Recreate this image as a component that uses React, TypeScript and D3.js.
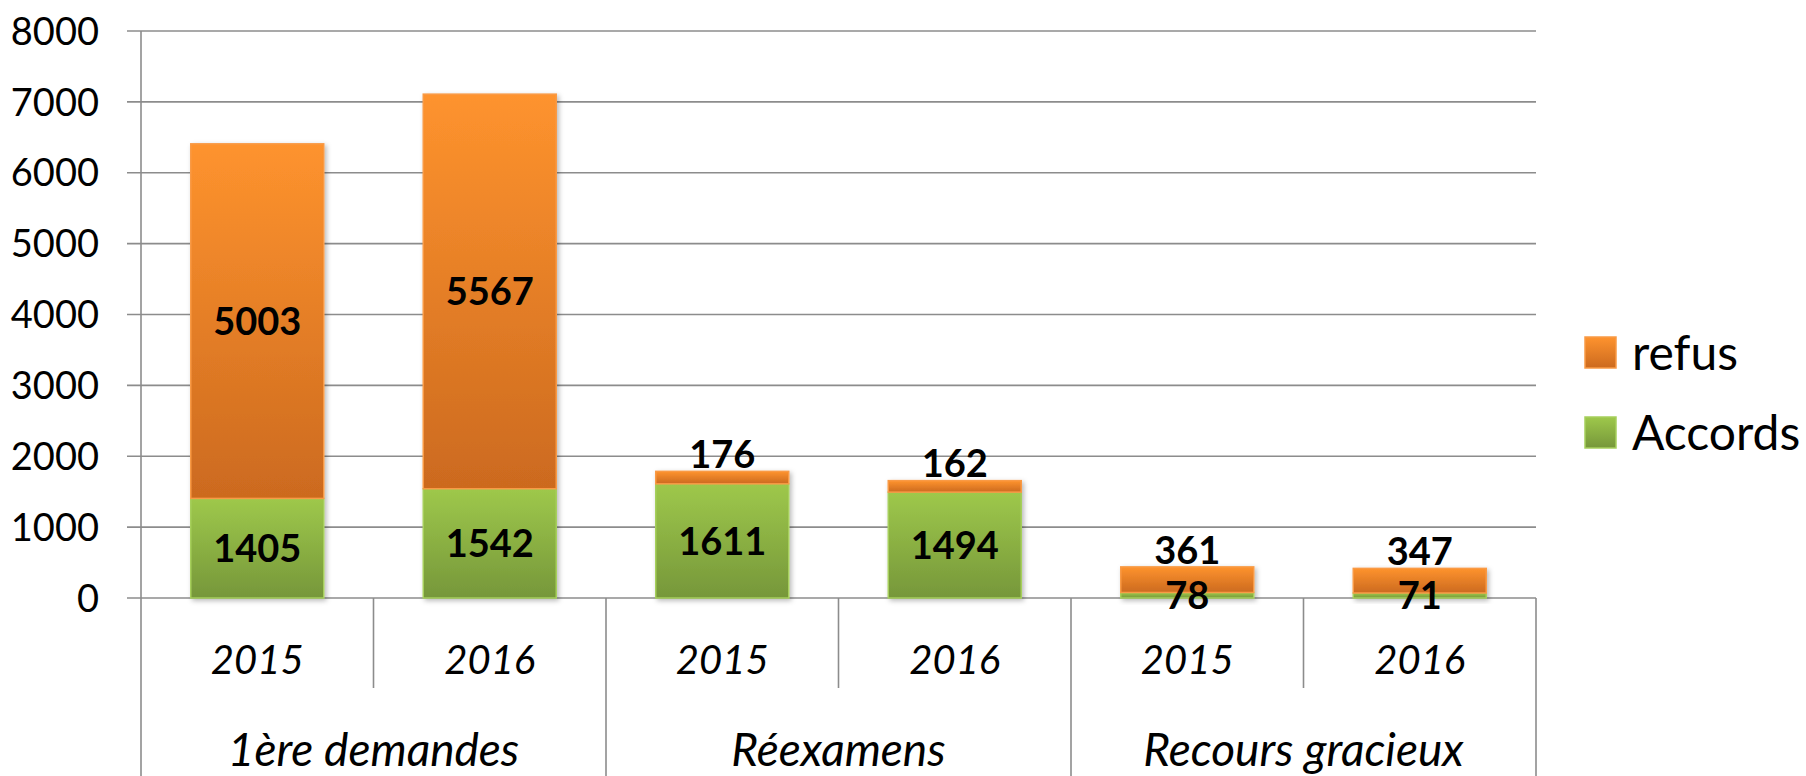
import React from "react";
import * as d3 from "d3";

const groups = ["1ère demandes", "Réexamens", "Recours gracieux"];
const years = ["2015", "2016"];
const accords = [1405, 1542, 1611, 1494, 78, 71];
const refus = [5003, 5567, 176, 162, 361, 347];
const yTicks = [0, 1000, 2000, 3000, 4000, 5000, 6000, 7000, 8000];
const seriesNames = ["refus", "Accords"];

const W = 1806;
const H = 776;
const left = 141;
const right = 1536;
const top = 31;
const bottom = 598;
const FONT = "Lato, 'Open Sans', sans-serif";
const gridColor = "#8c8c8c";

export default function App() {
  const n = accords.length;
  const idx = d3.range(n);
  const x = d3.scaleBand<number>().domain(idx).range([left, right]).padding(0);
  const y = d3.scaleLinear().domain([0, 8000]).range([bottom, top]);
  const barW = x.bandwidth() * 0.572;
  const gx = d3.scaleBand<number>().domain(d3.range(groups.length)).range([left, right]).padding(0);

  return (
    <svg width={W} height={H} style={{ position: "absolute", left: 0, top: 0, background: "#fff" }}>
      <defs>
        <linearGradient id="gOr" x1="0" y1="0" x2="0" y2="1">
          <stop offset="0%" stopColor="#fe932e" />
          <stop offset="100%" stopColor="#cc6a1f" />
        </linearGradient>
        <linearGradient id="gGr" x1="0" y1="0" x2="0" y2="1">
          <stop offset="0%" stopColor="#9ec84b" />
          <stop offset="100%" stopColor="#76973a" />
        </linearGradient>
        <filter id="sh" x="-10%" y="-10%" width="130%" height="130%">
          <feDropShadow dx="2" dy="2" stdDeviation="2.5" floodColor="#000" floodOpacity="0.28" />
        </filter>
      </defs>
      <rect x={0} y={0} width={W} height={H} fill="#fff" />
      {yTicks.map((t) => (
        <line key={"g" + t} x1={127} x2={right} y1={y(t)} y2={y(t)} stroke={gridColor} strokeWidth={1.6} />
      ))}
      {yTicks.map((t) => (
        <text key={"t" + t} x={99} y={y(t)} dy="0.36em" textAnchor="end" fontFamily={FONT} fontSize={38} fill="#000">
          {t}
        </text>
      ))}
      <line x1={left} x2={left} y1={top} y2={H} stroke={gridColor} strokeWidth={1.6} />
      {idx.slice(1).map((i) => {
        const isGroup = i % years.length === 0;
        return (
          <line key={"d" + i} x1={x(i)!} x2={x(i)!} y1={bottom} y2={isGroup ? H : 688} stroke={gridColor} strokeWidth={1.6} />
        );
      })}
      <line x1={right} x2={right} y1={bottom} y2={H} stroke={gridColor} strokeWidth={1.6} />
      {idx.map((i) => {
        const bx = x(i)! + (x.bandwidth() - barW) / 2;
        const a = accords[i];
        const r = refus[i];
        return (
          <g key={"b" + i} filter="url(#sh)">
            <rect x={bx} y={y(a)} width={barW} height={y(0) - y(a)} fill="url(#gGr)" stroke="#a6cf5c" strokeWidth={1.5} />
            <rect x={bx} y={y(a + r)} width={barW} height={y(a) - y(a + r)} fill="url(#gOr)" stroke="#f99a45" strokeWidth={1.5} />
          </g>
        );
      })}
      {idx.map((i) => {
        const cx = x(i)! + x.bandwidth() / 2;
        const a = accords[i];
        const r = refus[i];
        const segH = y(a) - y(a + r);
        const ry = segH > 40 ? (y(a) + y(a + r)) / 2 : y(a + r) - 17;
        const ay = (y(0) + y(a)) / 2;
        return (
          <g key={"l" + i} fontFamily={FONT} fontWeight={700} fontSize={38} fill="#000" textAnchor="middle">
            <text x={cx} y={ry} dy="0.36em">{r}</text>
            <text x={cx} y={ay} dy="0.36em">{a}</text>
          </g>
        );
      })}
      {idx.map((i) => (
        <text key={"y" + i} x={x(i)! + x.bandwidth() / 2} y={660} dy="0.36em" textAnchor="middle" fontFamily={FONT} fontStyle="italic" fontSize={40} fill="#000">
          {years[i % years.length]}
        </text>
      ))}
      {groups.map((g, gi) => (
        <text key={"gr" + gi} x={gx(gi)! + gx.bandwidth() / 2} y={749} dy="0.36em" textAnchor="middle" fontFamily={FONT} fontStyle="italic" fontSize={46} fill="#000">
          {g}
        </text>
      ))}
      {seriesNames.map((s, si) => {
        const ly = 352.5 + si * 80;
        return (
          <g key={"lg" + s}>
            <rect x={1585} y={ly - 15.5} width={31} height={31} fill={si === 0 ? "url(#gOr)" : "url(#gGr)"} stroke={si === 0 ? "#f99a45" : "#a6cf5c"} strokeWidth={1.5} />
            <text x={1632} y={ly} dy="0.36em" fontFamily={FONT} fontSize={48} fill="#000">{s}</text>
          </g>
        );
      })}
    </svg>
  );
}
